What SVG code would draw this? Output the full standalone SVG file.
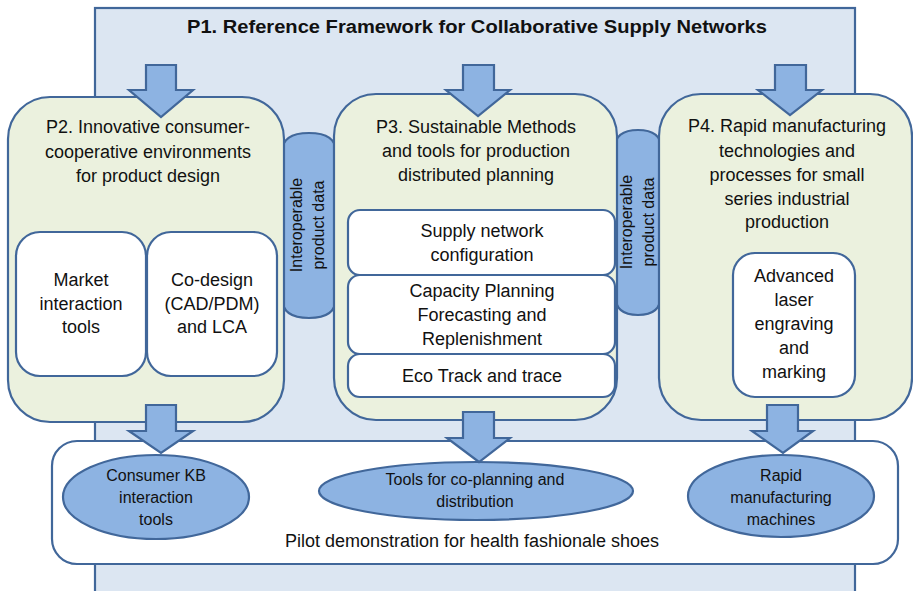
<svg xmlns="http://www.w3.org/2000/svg" width="913" height="591" viewBox="0 0 913 591">
<style>
.ln{stroke:#41679a;stroke-width:2.2}
.p1{fill:#dce6f2}
.grn{fill:#ebf1de}
.wht{fill:#ffffff}
.blu{fill:#8db3e2}
text{font-family:"Liberation Sans",Arial,sans-serif;fill:#111;text-anchor:middle}
.t{font-size:18px}
.s{font-size:16px}
.title{font-size:18px;font-weight:bold}
</style>
<g id="p1">
<rect class="p1 ln" x="95" y="8" width="760" height="600"/>
<text class="title" x="477" y="33" textLength="580" lengthAdjust="spacingAndGlyphs">P1. Reference Framework for Collaborative Supply Networks</text>
</g>
<g id="connectors-data">
<path class="blu ln" d="M282 152 Q282 133 309 133 Q336 133 336 152 L336 298 Q336 318 309 318 Q282 318 282 298 Z"/>
<path class="blu ln" d="M615 148 Q615 130 638 130 Q661 130 661 148 L661 295 Q661 315 638 315 Q615 315 615 295 Z"/>
<text class="s" transform="translate(302,225) rotate(-90)">Interoperable</text>
<text class="s" transform="translate(324,225) rotate(-90)">product data</text>
<text class="s" transform="translate(632,222) rotate(-90)">Interoperable</text>
<text class="s" transform="translate(654,222) rotate(-90)">product data</text>
</g>
<g id="p2">
<rect class="grn ln" x="8" y="97" width="276" height="325" rx="42"/>
<text class="t" x="148" y="133">P2. Innovative consumer-</text>
<text class="t" x="148" y="158">cooperative environments</text>
<text class="t" x="148" y="182">for product design</text>
</g>
<g id="market">
<rect class="wht ln" x="16" y="232" width="130" height="144" rx="24"/>
<text class="t" x="81" y="286">Market</text>
<text class="t" x="81" y="310">interaction</text>
<text class="t" x="81" y="333">tools</text>
</g>
<g id="codesign">
<rect class="wht ln" x="147" y="232" width="130" height="144" rx="24"/>
<text class="t" x="212" y="286">Co-design</text>
<text class="t" x="212" y="310">(CAD/PDM)</text>
<text class="t" x="212" y="333">and LCA</text>
</g>
<g id="p3">
<rect class="grn ln" x="334" y="94" width="283" height="326" rx="42"/>
<text class="t" x="476" y="133">P3. Sustainable Methods</text>
<text class="t" x="476" y="157">and tools for production</text>
<text class="t" x="476" y="181">distributed planning</text>
</g>
<g id="supply">
<rect class="wht ln" x="348" y="210" width="267" height="65" rx="12"/>
<text class="t" x="482" y="237">Supply network</text>
<text class="t" x="482" y="261">configuration</text>
</g>
<g id="capacity">
<rect class="wht ln" x="348" y="275" width="267" height="79" rx="12"/>
<text class="t" x="482" y="297">Capacity Planning</text>
<text class="t" x="482" y="321">Forecasting and</text>
<text class="t" x="482" y="345">Replenishment</text>
</g>
<g id="eco">
<rect class="wht ln" x="348" y="354" width="267" height="43" rx="12"/>
<text class="t" x="482" y="382">Eco Track and trace</text>
</g>
<g id="p4">
<rect class="grn ln" x="659" y="94" width="253" height="326" rx="42"/>
<text class="t" x="787" y="132">P4. Rapid manufacturing</text>
<text class="t" x="787" y="157">technologies and</text>
<text class="t" x="787" y="181">processes for small</text>
<text class="t" x="787" y="205">series industrial</text>
<text class="t" x="787" y="228">production</text>
</g>
<g id="laser">
<rect class="wht ln" x="733" y="253" width="122" height="144" rx="22"/>
<text class="t" x="794" y="282">Advanced</text>
<text class="t" x="794" y="306">laser</text>
<text class="t" x="794" y="330">engraving</text>
<text class="t" x="794" y="354">and</text>
<text class="t" x="794" y="378">marking</text>
</g>
<g id="pilot">
<rect class="wht ln" x="52" y="441" width="846" height="123" rx="25"/>
<text class="t" x="472" y="547">Pilot demonstration for health fashionale shoes</text>
</g>
<g id="consumer">
<ellipse class="blu ln" cx="156" cy="497" rx="93" ry="42"/>
<text class="s" x="156" y="481">Consumer KB</text>
<text class="s" x="156" y="503">interaction</text>
<text class="s" x="156" y="525">tools</text>
</g>
<g id="coplanning">
<ellipse class="blu ln" cx="476" cy="491" rx="157" ry="29"/>
<text class="s" x="475" y="485">Tools for co-planning and</text>
<text class="s" x="475" y="507">distribution</text>
</g>
<g id="rapid">
<ellipse class="blu ln" cx="781" cy="496" rx="93" ry="41"/>
<text class="s" x="781" y="481">Rapid</text>
<text class="s" x="781" y="503">manufacturing</text>
<text class="s" x="781" y="525">machines</text>
</g>
<g id="arrows">
<polygon class="blu ln" points="146,65 176,65 176,90 193,90 161,117 129,90 146,90"/>
<polygon class="blu ln" points="463,65 494,65 494,90 510,90 478,116 446,90 463,90"/>
<polygon class="blu ln" points="775,65 806,65 806,90 822,90 790,115 758,90 775,90"/>
<polygon class="blu ln" points="146,405 176,405 176,431 193,431 161,453 129,431 146,431"/>
<polygon class="blu ln" points="463,412 494,412 494,438 510,438 479,462 447,438 463,438"/>
<polygon class="blu ln" points="767,405 798,405 798,431 813,431 783,453 752,431 767,431"/>
</g>
</svg>
